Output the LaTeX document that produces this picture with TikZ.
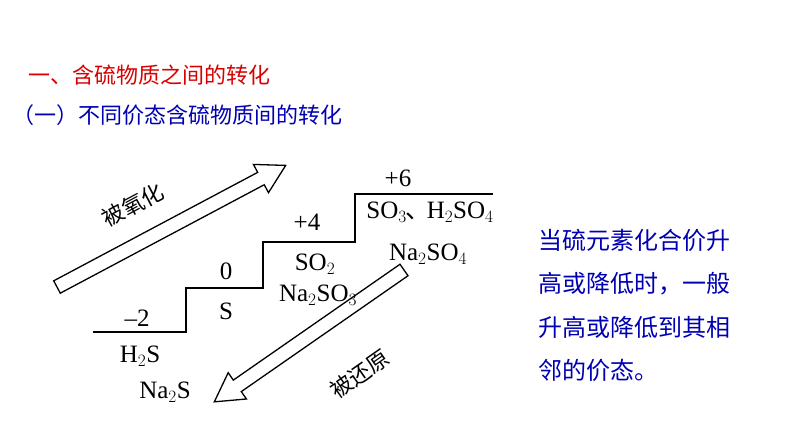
\documentclass[tikz,border=0pt]{standalone}
\usepackage{fontspec}
\setmainfont{Liberation Serif}
\newfontfamily\cjk{Noto Sans CJK SC}
\begin{document}
\begin{tikzpicture}[x=1pt,y=1pt,
  chem/.style={font=\fontsize{25}{27}\selectfont, inner sep=0},
  cn/.style={font=\cjk\fontsize{22}{24}\selectfont, inner sep=0},
  fat/.style={draw=black, line width=1.3pt, fill=white}]
\useasboundingbox (0,0) rectangle (794,447);
% arrows
\begin{scope}[shift={(57,160)}, rotate=28]
\draw[fat] (0,-7)--(231,-7)--(231,-16)--(259,0)--(231,16)--(231,7)--(0,7)--cycle;
\end{scope}
\begin{scope}[shift={(404,177)}, rotate=214.8]
\draw[fat] (0,-7)--(203,-7)--(203,-16)--(231,0)--(203,16)--(203,7)--(0,7)--cycle;
\end{scope}
\node[cn, rotate=28] (ox) at (133,242) {被氧化};
\node[cn, rotate=35] (re) at (360,73) {被还原};
% title
\node[cn, anchor=west, text=red!85!black] (t1) at (28,372) {一、含硫物质之间的转化};
\node[cn, anchor=west, text=blue!70!black] (t2) at (12,332) {（一）不同价态含硫物质间的转化};
% stairs
\draw[line width=1.2pt] (93,115) -- (186,115) -- (186,159) -- (263,159) -- (263,205) -- (355,205) -- (355,253) -- (493,253);
\node[chem] (m2) at (137,129) {\char"2013 2};
\node[chem] (h2s) at (140,91) {H$_2$S};
\node[chem] (na2s) at (165,55) {Na$_2$S};
\node[chem] (z) at (226,176) {0};
\node[chem] (s) at (226,136) {S};
\node[chem] (p4) at (307,225) {+4};
\node[chem] (so2) at (315,183) {SO$_2$};
\node[chem] (na2so3) at (318,152) {Na$_2$SO$_3$};
\node[chem] (p6) at (398,269) {+6};
\node[chem] (so3) at (430,235) {SO$_3$\kern-1pt{\cjk 、}\kern-4pt H$_2$SO$_4$};
\node[chem] (na2so4) at (428,193) {Na$_2$SO$_4$};
% note
\node[cn, anchor=west, text=blue!70!black, font=\cjk\fontsize{24}{26}\selectfont] (n1) at (538,207) {当硫元素化合价升};
\node[cn, anchor=west, text=blue!70!black, font=\cjk\fontsize{24}{26}\selectfont] (n2) at (538,163) {高或降低时，一般};
\node[cn, anchor=west, text=blue!70!black, font=\cjk\fontsize{24}{26}\selectfont] (n3) at (538,120) {升高或降低到其相};
\node[cn, anchor=west, text=blue!70!black, font=\cjk\fontsize{24}{26}\selectfont] (n4) at (538,77) {邻的价态。};
\end{tikzpicture}
\end{document}
